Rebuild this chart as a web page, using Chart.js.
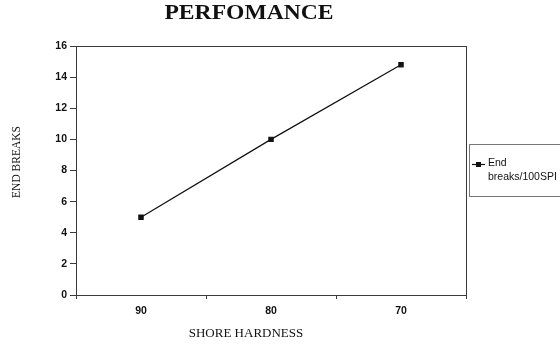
<!DOCTYPE html>
<html>
<head>
<meta charset="utf-8">
<script src="https://cdn.jsdelivr.net/npm/chart.js@4.4.1/dist/chart.umd.min.js"></script>
<style>
  html, body { margin: 0; padding: 0; background: #fff; }
  #wrap { width: 560px; height: 345px; position: relative; }
</style>
</head>
<body>
<div id="wrap"><canvas id="c" width="560" height="345"></canvas></div>
<script>
// Shore hardness categories and end breaks per 100 spindles
const hardness = ['90', '80', '70'];
const endBreaks = [5.0, 10.0, 14.8];
const seriesName = ['End', 'breaks/100SPI'];
const yTicks = [0, 2, 4, 6, 8, 10, 12, 14, 16];

const INK = '#111';
const FRAME = '#3a3a3a';
const serif = '"Liberation Serif", "Times New Roman", serif';
const sans = '"Liberation Sans", Arial, sans-serif';

// Frame, titles and legend box drawn around the plot area
const decorations = {
  id: 'decorations',
  afterDraw(chart) {
    const { ctx, chartArea: a } = chart;
    ctx.save();
    // box around the plot area
    ctx.strokeStyle = FRAME;
    ctx.lineWidth = 1;
    ctx.strokeRect(a.left + 0.5, a.top + 0.5, a.right - a.left, a.bottom - a.top);

    // chart title (wide bold serif)
    ctx.fillStyle = INK;
    ctx.textAlign = 'center';
    ctx.textBaseline = 'middle';
    ctx.save();
    ctx.translate(249, 14);
    ctx.scale(1.18, 1);
    ctx.font = 'bold 20px ' + serif;
    ctx.fillText('PERFOMANCE', 0, 0);
    ctx.restore();

    // axis titles
    ctx.font = '13px ' + serif;
    ctx.fillText('SHORE HARDNESS', 246, 334);
    ctx.save();
    ctx.translate(17, 162);
    ctx.rotate(-Math.PI / 2);
    ctx.font = '11.5px ' + serif;
    ctx.fillText('END BREAKS', 0, 0);
    ctx.restore();

    // legend
    const lx = 469.5, ly = 144.5;
    ctx.strokeStyle = '#777';
    ctx.strokeRect(lx, ly, 100, 52);
    ctx.strokeStyle = INK;
    ctx.lineWidth = 1.2;
    ctx.beginPath();
    ctx.moveTo(472, 164.5);
    ctx.lineTo(485, 164.5);
    ctx.stroke();
    ctx.fillRect(476, 162, 5, 5);
    ctx.font = '10.5px ' + sans;
    ctx.textAlign = 'left';
    ctx.fillText(seriesName[0], 488, 163);
    ctx.fillText(seriesName[1], 488, 177);
    ctx.restore();
  }
};

new Chart(document.getElementById('c'), {
  type: 'line',
  data: {
    labels: hardness,
    datasets: [{
      label: seriesName.join(' '),
      data: endBreaks,
      borderColor: INK,
      backgroundColor: INK,
      borderWidth: 1.2,
      pointStyle: 'rect',
      pointRadius: 3,
      pointHoverRadius: 3,
      tension: 0
    }]
  },
  options: {
    responsive: false,
    animation: false,
    events: [],
    layout: { padding: { left: 2, top: 46, right: 94, bottom: 0 } },
    plugins: {
      legend: { display: false },
      title: { display: false },
      tooltip: { enabled: false }
    },
    scales: {
      x: {
        type: 'category',
        offset: true,
        grid: {
          offset: true,
          drawOnChartArea: false,
          drawTicks: true,
          tickLength: 4,
          color: FRAME
        },
        border: { display: true, color: FRAME, width: 1 },
        ticks: {
          color: INK,
          padding: 6,
          font: { family: sans, size: 10.5, weight: 'bold' }
        },
        afterFit(scale) { scale.height = 50; }
      },
      y: {
        min: 0,
        max: 16,
        afterBuildTicks(scale) { scale.ticks = yTicks.map(v => ({ value: v })); },
        grid: {
          drawOnChartArea: false,
          drawTicks: true,
          tickLength: 6,
          color: FRAME
        },
        border: { display: true, color: FRAME, width: 1 },
        ticks: {
          color: INK,
          padding: 3,
          font: { family: sans, size: 10.5, weight: 'bold' }
        },
        afterFit(scale) { scale.width = 74; }
      }
    }
  },
  plugins: [decorations]
});
</script>
</body>
</html>
